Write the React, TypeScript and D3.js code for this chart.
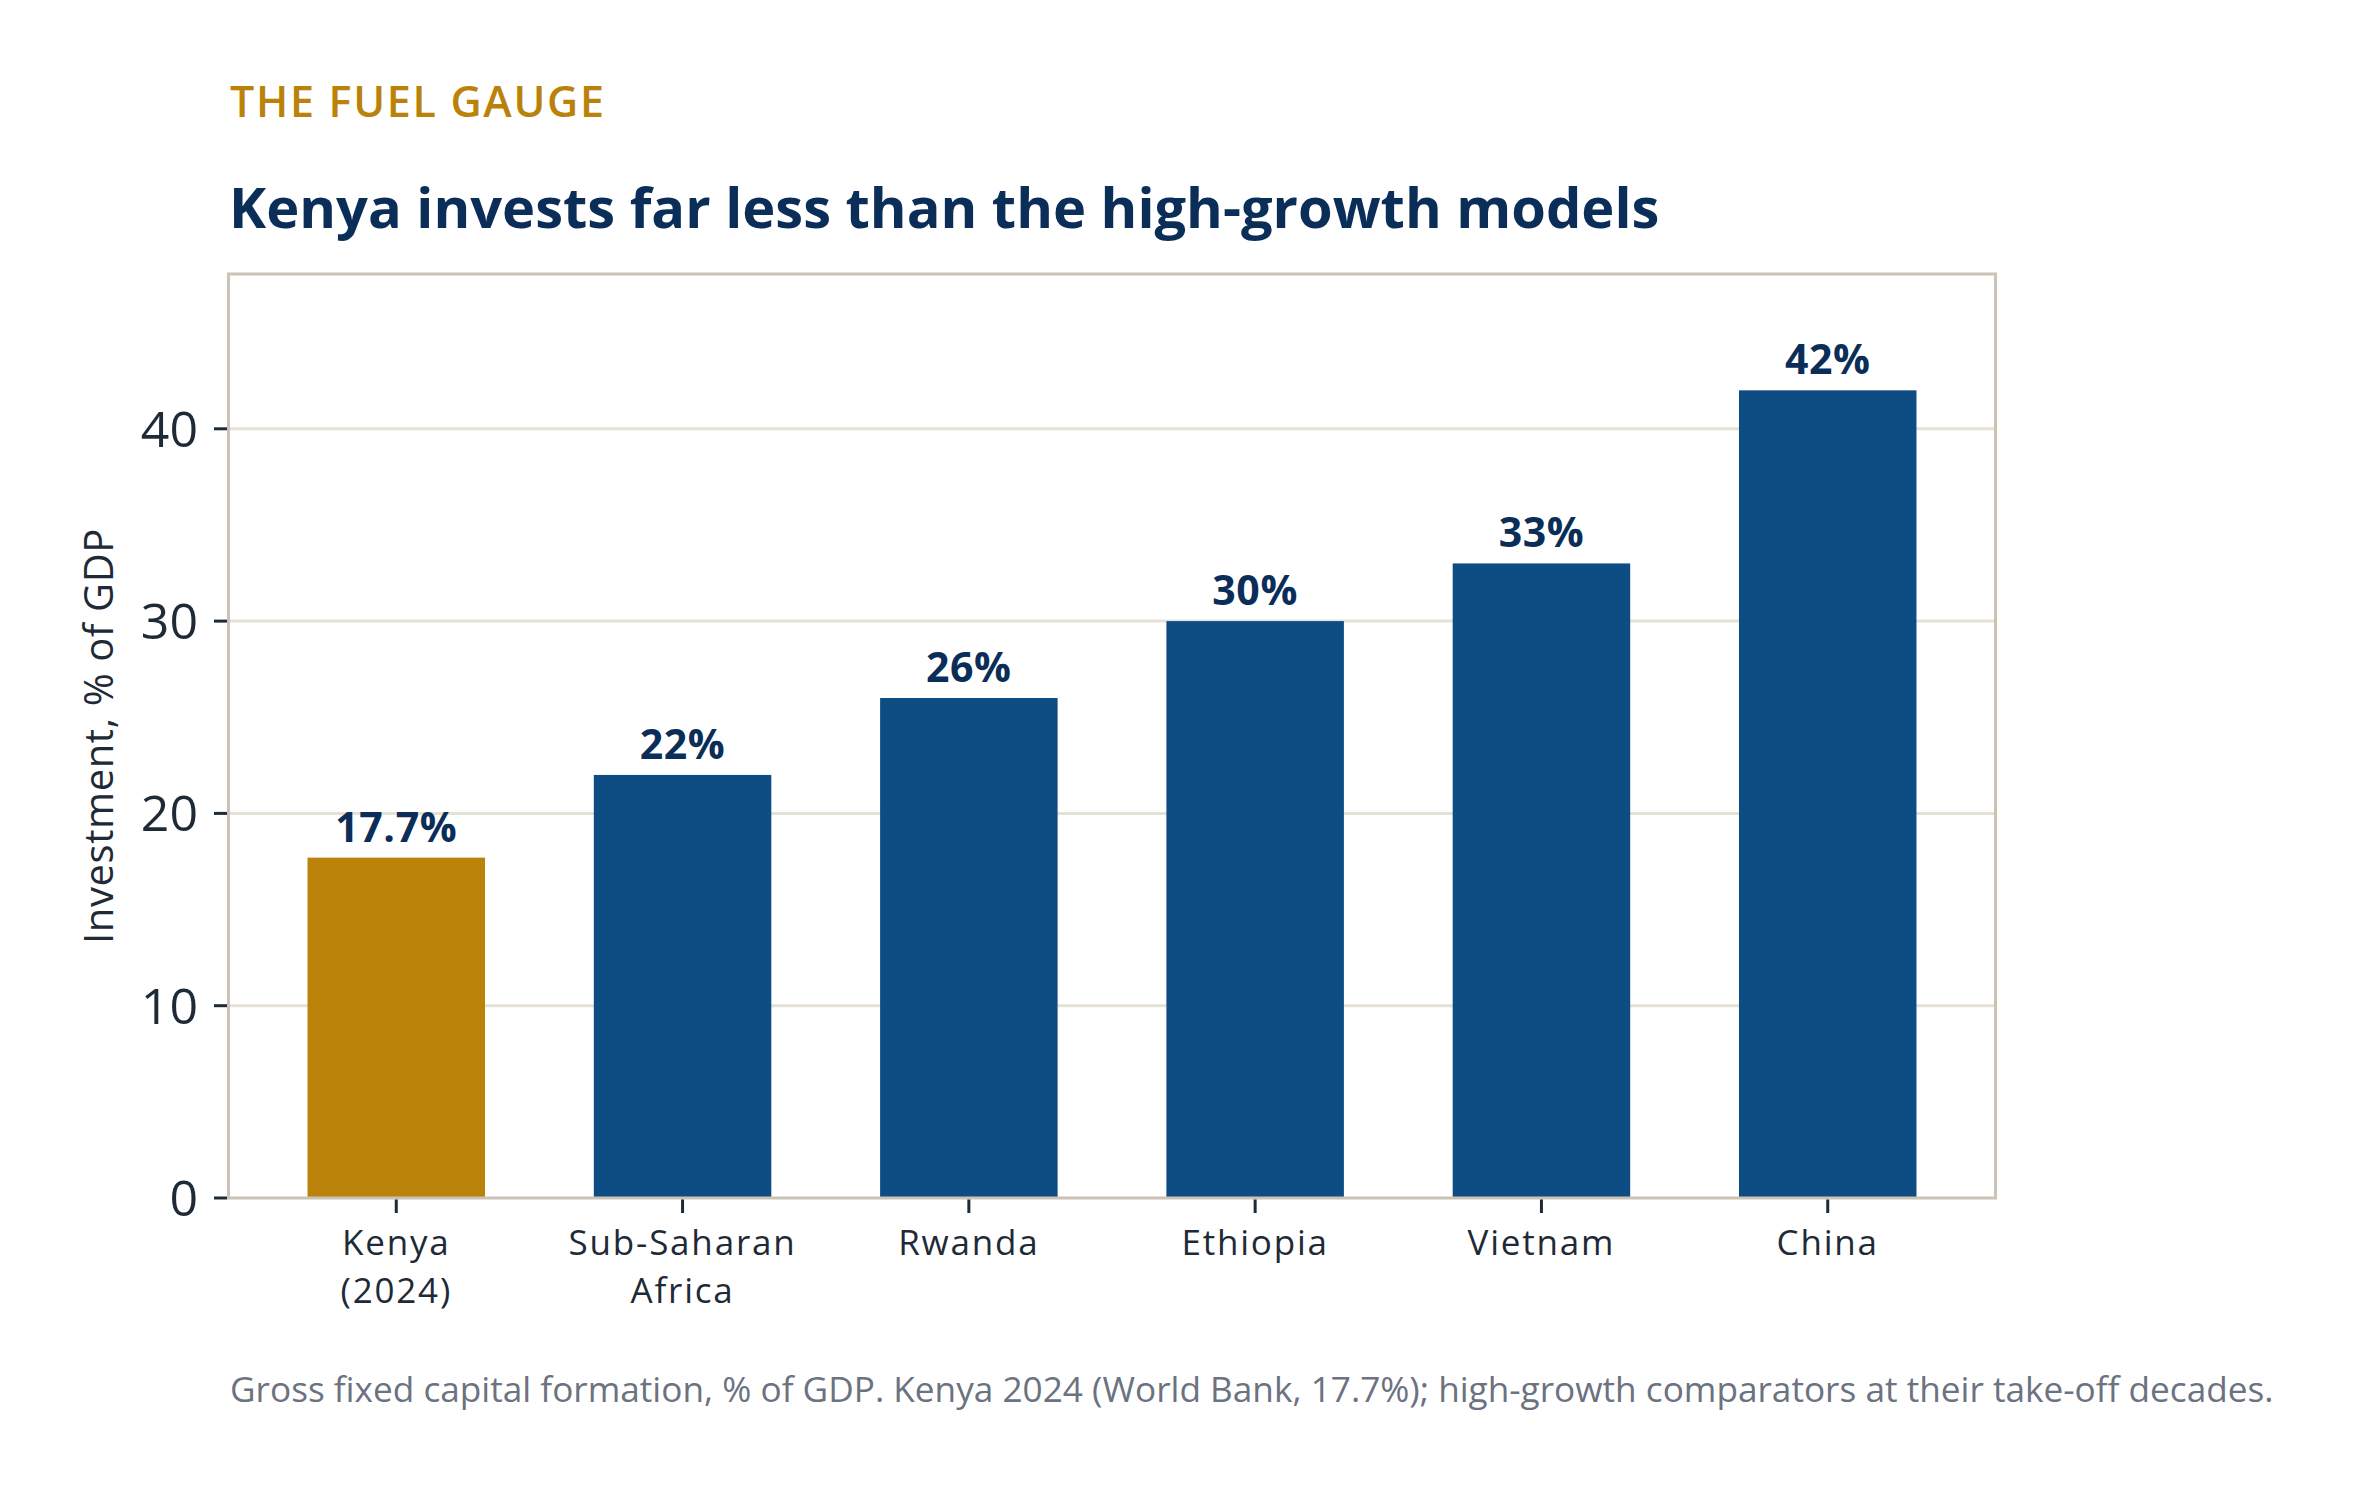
import * as React from "react";
import { scaleBand, scaleLinear } from "d3";

const countries = ["Kenya\n(2024)", "Sub-Saharan\nAfrica", "Rwanda", "Ethiopia", "Vietnam", "China"];
const investment = [17.7, 22, 26, 30, 33, 42];
const valueLabels = ["17.7%", "22%", "26%", "30%", "33%", "42%"];
const yTicks = [0, 10, 20, 30, 40];

const kicker = "THE FUEL GAUGE";
const title = "Kenya invests far less than the high-growth models";
const yTitle = "Investment, % of GDP";
const footnote =
  "Gross fixed capital formation, % of GDP. Kenya 2024 (World Bank, 17.7%); high-growth comparators at their take-off decades.";

const width = 2359, height = 1493;
const plot = { left: 228.5, right: 1995.5, top: 274, bottom: 1198 };
const font = "'Open Sans', 'Noto Sans', sans-serif";

const App: React.FC = () => {
    const x = scaleBand<string>()
        .domain(countries)
        .range([plot.left, plot.right])
        .paddingInner(0.38)
        .paddingOuter(0.276);
    const y = scaleLinear().domain([0, 48.05]).range([plot.bottom, plot.top]);

    return (
        <div style={{ position: "absolute", left: 0, top: 0 }}>
            <svg width={width} height={height} style={{ display: "block", background: "#fff" }}>
                <text x={230} y={116.5} fill="#BA8209" fontFamily={font} fontWeight={600} fontSize={43}
                      letterSpacing={1.7}>
                    {kicker}
                </text>
                <text x={229} y={228} fill="#0B2E59" fontFamily={font} fontWeight={700} fontSize={56}>
                    {title}
                </text>

                {/* grid */}
                {yTicks.filter(t => t > 0).map(t => (
                    <line key={t} x1={plot.left} x2={plot.right} y1={y(t)} y2={y(t)}
                          stroke="#E6E1D5" strokeWidth={3} />
                ))}

                {/* bars */}
                {countries.map((c, i) => (
                    <rect key={c} x={x(c)} y={y(investment[i])} width={x.bandwidth()}
                          height={plot.bottom - y(investment[i])}
                          fill={i === 0 ? "#BA8209" : "#0E4D83"} />
                ))}
                {countries.map((c, i) => (
                    <text key={c} x={(x(c) as number) + x.bandwidth() / 2} y={y(investment[i]) - 16}
                          textAnchor="middle" fill="#0B2E59" fontFamily={font} fontWeight={700} fontSize={41}
                          letterSpacing={0.6}>
                        {valueLabels[i]}
                    </text>
                ))}

                {/* frame */}
                <rect x={plot.left} y={plot.top} width={plot.right - plot.left} height={plot.bottom - plot.top}
                      fill="none" stroke="#CBC3B5" strokeWidth={3} />

                {/* y axis */}
                {yTicks.map(t => (
                    <g key={t} transform={`translate(0,${y(t)})`}>
                        <line x1={214} x2={plot.left - 1.5} stroke="#1F2A37" strokeWidth={3} />
                        <text x={198} dy="0.36em" textAnchor="end" fill="#1F2A37"
                              fontFamily={font} fontSize={50}>{t}</text>
                    </g>
                ))}
                <text transform={`translate(113,${(plot.top + plot.bottom) / 2}) rotate(-90)`}
                      textAnchor="middle" fill="#1F2A37" fontFamily={font} fontSize={40} letterSpacing={0.6}>
                    {yTitle}
                </text>

                {/* x axis */}
                {countries.map(c => {
                    const cx = (x(c) as number) + x.bandwidth() / 2;
                    return (
                        <g key={c}>
                            <line x1={cx} x2={cx} y1={plot.bottom + 1.5} y2={1213} stroke="#1F2A37" strokeWidth={3} />
                            {c.split("\n").map((line, j) => (
                                <text key={j} x={cx} y={1255 + j * 48} textAnchor="middle" fill="#1F2A37"
                                      fontFamily={font} fontSize={35} letterSpacing={1.8}>
                                    {line}
                                </text>
                            ))}
                        </g>
                    );
                })}

                <text x={230} y={1401.5} fill="#6B7280" fontFamily={font} fontSize={35.2}>
                    {footnote}
                </text>
            </svg>
        </div>
    );
};

export default App;
